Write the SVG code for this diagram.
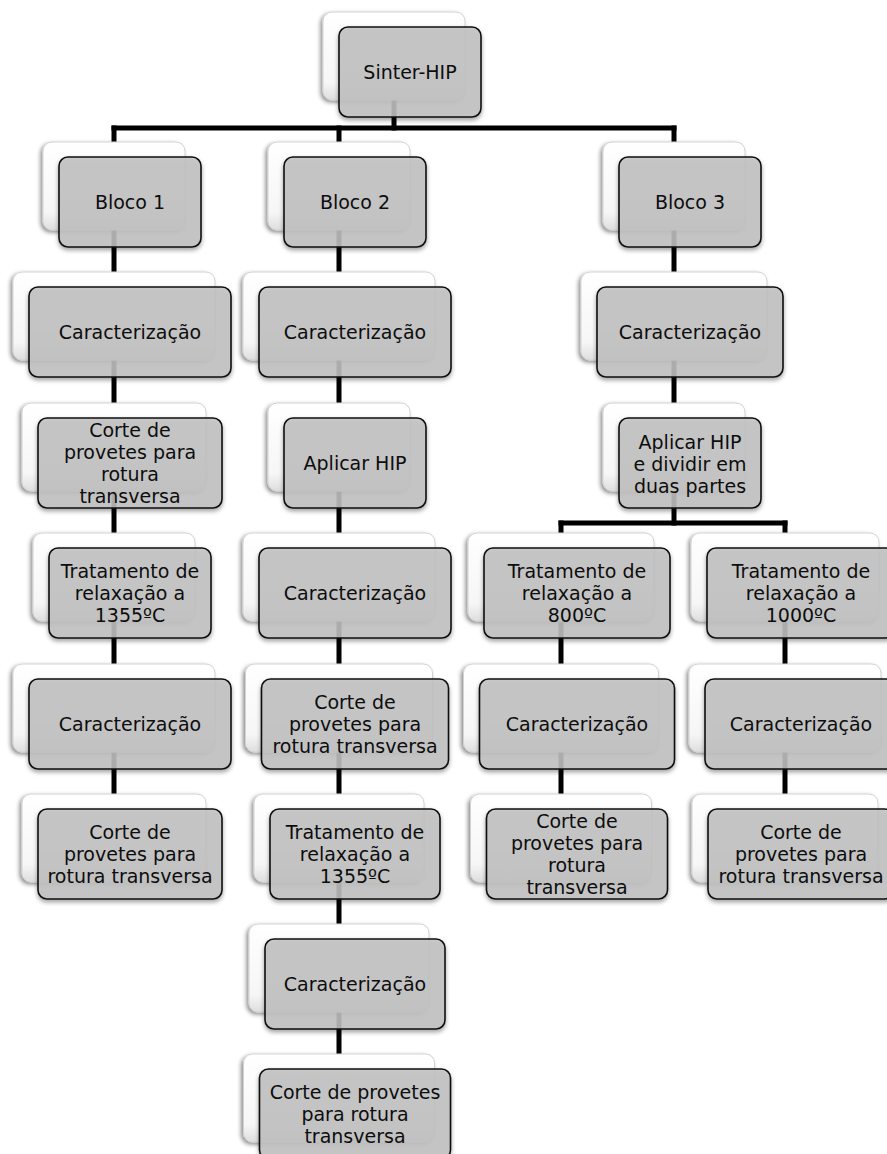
<svg xmlns="http://www.w3.org/2000/svg" width="887" height="1154" viewBox="0 0 887 1154">
<defs>
<linearGradient id="gBack" x1="0" y1="0" x2="0" y2="1">
<stop offset="0" stop-color="#ffffff"/>
<stop offset="0.8" stop-color="#f6f6f6"/>
<stop offset="1" stop-color="#dedede"/>
</linearGradient>
<filter id="shBack" x="-20%" y="-20%" width="140%" height="150%">
<feDropShadow dx="-2" dy="2" stdDeviation="2" flood-color="#000" flood-opacity="0.45"/>
</filter>
<filter id="shFront" x="-20%" y="-20%" width="140%" height="150%">
<feDropShadow dx="0" dy="2.5" stdDeviation="2" flood-color="#000" flood-opacity="0.4"/>
</filter>
</defs>
<style>
.back{fill:url(#gBack);stroke:#d2d2d2;stroke-width:1;filter:url(#shBack)}
.front{fill:#c3c3c3;fill-opacity:0.86;stroke:#111;stroke-width:1.6;filter:url(#shFront)}
.t{font-family:"DejaVu Sans",sans-serif;font-size:19px;fill:#0d0d0d;text-anchor:middle}
.conn{fill:none;stroke:#000;stroke-width:5;stroke-linecap:square;stroke-linejoin:miter}
</style>
<rect width="887" height="1154" fill="#fff"/>
<g id="connectors">
<path class="conn" d="M394,100 V128"/>
<path class="conn" d="M114,128 H674"/>
<path class="conn" d="M114,128 V800"/>
<path class="conn" d="M339,128 V1060"/>
<path class="conn" d="M674,128 V523"/>
<path class="conn" d="M561,523 H785"/>
<path class="conn" d="M561,523 V800"/>
<path class="conn" d="M785,523 V800"/>
</g>
<g id="n-sinter"><rect class="back" x="323" y="12" width="142" height="88" rx="9"/><rect class="front" x="339" y="27" width="142" height="90" rx="9"/><text class="t" x="410" y="78.5">Sinter-HIP</text></g>

<g id="c1-bloco"><rect class="back" x="43" y="142" width="142" height="88" rx="9"/><rect class="front" x="59" y="157" width="142" height="90" rx="9"/><text class="t" x="130" y="208.5">Bloco 1</text></g>
<g id="c1-car1"><rect class="back" x="13" y="272" width="202" height="88" rx="9"/><rect class="front" x="29" y="287" width="202" height="90" rx="9"/><text class="t" x="130" y="338.5">Caracterização</text></g>
<g id="c1-corte1"><rect class="back" x="22" y="403" width="184" height="88" rx="9"/><rect class="front" x="38" y="418" width="184" height="90" rx="9"/><text class="t" x="130" y="436.5">Corte de</text><text class="t" x="130" y="458.5">provetes para</text><text class="t" x="130" y="480.5">rotura</text><text class="t" x="130" y="502.5">transversa</text></g>
<g id="c1-trat"><rect class="back" x="33" y="533" width="162" height="88" rx="9"/><rect class="front" x="49" y="548" width="162" height="90" rx="9"/><text class="t" x="130" y="577.5">Tratamento de</text><text class="t" x="130" y="599.5">relaxação a</text><text class="t" x="130" y="621.5">1355ºC</text></g>
<g id="c1-car2"><rect class="back" x="13" y="664" width="202" height="88" rx="9"/><rect class="front" x="29" y="679" width="202" height="90" rx="9"/><text class="t" x="130" y="730.5">Caracterização</text></g>
<g id="c1-corte2"><rect class="back" x="22" y="794" width="184" height="88" rx="9"/><rect class="front" x="38" y="809" width="184" height="90" rx="9"/><text class="t" x="130" y="838.5">Corte de</text><text class="t" x="130" y="860.5">provetes para</text><text class="t" x="130" y="882.5">rotura transversa</text></g>

<g id="c2-bloco"><rect class="back" x="268" y="142" width="142" height="88" rx="9"/><rect class="front" x="284" y="157" width="142" height="90" rx="9"/><text class="t" x="355" y="208.5">Bloco 2</text></g>
<g id="c2-car1"><rect class="back" x="243" y="272" width="192" height="88" rx="9"/><rect class="front" x="259" y="287" width="192" height="90" rx="9"/><text class="t" x="355" y="338.5">Caracterização</text></g>
<g id="c2-hip"><rect class="back" x="268" y="403" width="142" height="88" rx="9"/><rect class="front" x="284" y="418" width="142" height="90" rx="9"/><text class="t" x="355" y="469.5">Aplicar HIP</text></g>
<g id="c2-car2"><rect class="back" x="243" y="533" width="192" height="88" rx="9"/><rect class="front" x="259" y="548" width="192" height="90" rx="9"/><text class="t" x="355" y="599.5">Caracterização</text></g>
<g id="c2-corte1"><rect class="back" x="245.5" y="664" width="187" height="88" rx="9"/><rect class="front" x="261.5" y="679" width="187" height="90" rx="9"/><text class="t" x="355" y="708.5">Corte de</text><text class="t" x="355" y="730.5">provetes para</text><text class="t" x="355" y="752.5">rotura transversa</text></g>
<g id="c2-trat"><rect class="back" x="254" y="794" width="170" height="88" rx="9"/><rect class="front" x="270" y="809" width="170" height="90" rx="9"/><text class="t" x="355" y="838.5">Tratamento de</text><text class="t" x="355" y="860.5">relaxação a</text><text class="t" x="355" y="882.5">1355ºC</text></g>
<g id="c2-car3"><rect class="back" x="249" y="924" width="180" height="88" rx="9"/><rect class="front" x="265" y="939" width="180" height="90" rx="9"/><text class="t" x="355" y="990.5">Caracterização</text></g>
<g id="c2-corte2"><rect class="back" x="243.5" y="1054" width="191" height="88" rx="9"/><rect class="front" x="259.5" y="1069" width="191" height="90" rx="9"/><text class="t" x="355" y="1098.5">Corte de provetes</text><text class="t" x="355" y="1120.5">para rotura</text><text class="t" x="355" y="1142.5">transversa</text></g>

<g id="c3-bloco"><rect class="back" x="603" y="142" width="142" height="88" rx="9"/><rect class="front" x="619" y="157" width="142" height="90" rx="9"/><text class="t" x="690" y="208.5">Bloco 3</text></g>
<g id="c3-car"><rect class="back" x="581" y="272" width="186" height="88" rx="9"/><rect class="front" x="597" y="287" width="186" height="90" rx="9"/><text class="t" x="690" y="338.5">Caracterização</text></g>
<g id="c3-hip"><rect class="back" x="603" y="403" width="142" height="88" rx="9"/><rect class="front" x="619" y="418" width="142" height="90" rx="9"/><text class="t" x="690" y="449">Aplicar HIP</text><text class="t" x="690" y="471">e dividir em</text><text class="t" x="690" y="493">duas partes</text></g>

<g id="s8-trat"><rect class="back" x="468" y="533" width="186" height="88" rx="9"/><rect class="front" x="484" y="548" width="186" height="90" rx="9"/><text class="t" x="577" y="577.5">Tratamento de</text><text class="t" x="577" y="599.5">relaxação a</text><text class="t" x="577" y="621.5">800ºC</text></g>
<g id="s8-car"><rect class="back" x="463.5" y="664" width="195" height="88" rx="9"/><rect class="front" x="479.5" y="679" width="195" height="90" rx="9"/><text class="t" x="577" y="730.5">Caracterização</text></g>
<g id="s8-corte"><rect class="back" x="470.5" y="794" width="181" height="88" rx="9"/><rect class="front" x="486.5" y="809" width="181" height="90" rx="9"/><text class="t" x="577" y="827.5">Corte de</text><text class="t" x="577" y="849.5">provetes para</text><text class="t" x="577" y="871.5">rotura</text><text class="t" x="577" y="893.5">transversa</text></g>

<g id="s10-trat"><rect class="back" x="691" y="533" width="188" height="88" rx="9"/><rect class="front" x="707" y="548" width="188" height="90" rx="9"/><text class="t" x="801" y="577.5">Tratamento de</text><text class="t" x="801" y="599.5">relaxação a</text><text class="t" x="801" y="621.5">1000ºC</text></g>
<g id="s10-car"><rect class="back" x="689" y="664" width="192" height="88" rx="9"/><rect class="front" x="705" y="679" width="192" height="90" rx="9"/><text class="t" x="801" y="730.5">Caracterização</text></g>
<g id="s10-corte"><rect class="back" x="692" y="794" width="186" height="88" rx="9"/><rect class="front" x="708" y="809" width="186" height="90" rx="9"/><text class="t" x="801" y="838.5">Corte de</text><text class="t" x="801" y="860.5">provetes para</text><text class="t" x="801" y="882.5">rotura transversa</text></g>
</svg>
